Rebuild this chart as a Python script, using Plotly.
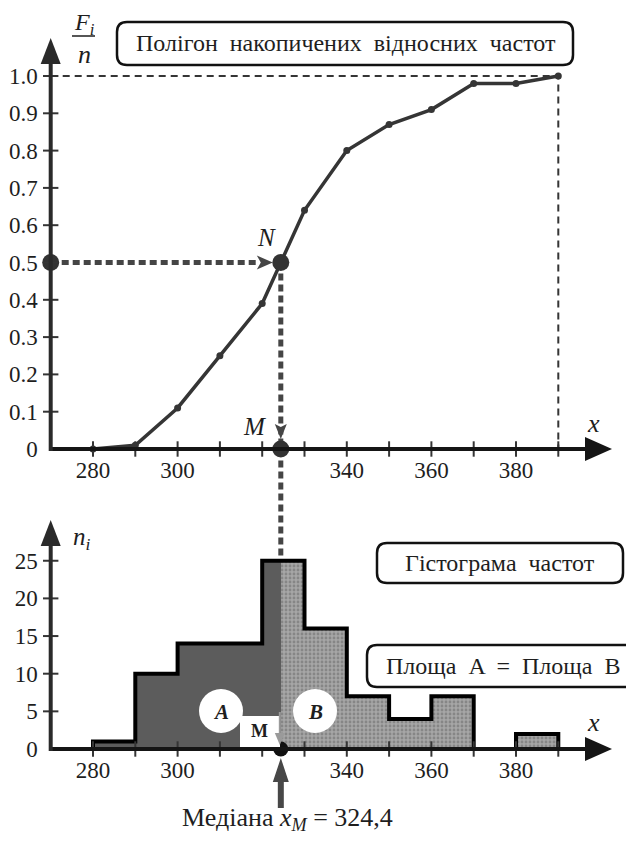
import plotly.graph_objects as go

# The page adds an 8 px body margin; the figure is sized to fit the 634x841 window.
OFF = 8
W, H = 634 - OFF, 841 - OFF

# ---------------- data ----------------
x_points = [280, 290, 300, 310, 320, 330, 340, 350, 360, 370, 380, 390]
cum_rel_freq = [0.0, 0.01, 0.11, 0.25, 0.39, 0.64, 0.80, 0.87, 0.91, 0.98, 0.98, 1.00]
bin_edges = [280, 290, 300, 310, 320, 330, 340, 350, 360, 370, 380, 390]
frequencies = [1, 10, 14, 14, 25, 16, 7, 4, 7, 0, 2]
median_x = 324.4
median_level = 0.5
x_tick_vals = [280, 300, 340, 360, 380]
x_tick_text = ["280", "300", "340", "360", "380"]
x_minor_ticks = [280, 290, 300, 310, 320, 330, 340, 350, 360, 370, 380, 390]
top_y_ticks = [0, 0.1, 0.2, 0.3, 0.4, 0.5, 0.6, 0.7, 0.8, 0.9, 1.0]
top_y_text = ["0", "0.1", "0.2", "0.3", "0.4", "0.5", "0.6", "0.7", "0.8", "0.9", "1.0"]
bot_y_ticks = [0, 5, 10, 15, 20, 25]
bot_y_text = ["0", "5", "10", "15", "20", "25"]

# ---------------- layout geometry (window pixels) ----------------
X0_PX, X_SCALE, X_ORIGIN = 50.7, 4.23, 270
TOP_Y0_PX, TOP_Y_SCALE = 449.0, 373.0
BOT_Y0_PX, BOT_Y_SCALE = 749.0, 7.53
FONT = "Liberation Serif"
INK = "#1e1e1e"
LINE = "#353535"


def px_x(v):
    return X0_PX + (v - X_ORIGIN) * X_SCALE


def x_of_px(p):
    return X_ORIGIN + (p - X0_PX) / X_SCALE


def py_top(v):
    return TOP_Y0_PX - v * TOP_Y_SCALE


def top_of_py(p):
    return (TOP_Y0_PX - p) / TOP_Y_SCALE


def py_bot(v):
    return BOT_Y0_PX - v * BOT_Y_SCALE


def P(px, py):
    return (px - OFF) / W, 1 - (py - OFF) / H


def arrowhead(tipx, tipy, dx, dy, length, hw, notch=0.0):
    bx, by = tipx - dx * length, tipy - dy * length
    nx, ny = -dy, dx
    lx, ly = bx + nx * hw, by + ny * hw
    rx, ry = bx - nx * hw, by - ny * hw
    cx, cy = tipx - dx * (length - notch), tipy - dy * (length - notch)
    pts = [(tipx, tipy), (lx, ly), (cx, cy), (rx, ry)]
    s = ""
    for i, (a, b) in enumerate(pts):
        u, v = P(a, b)
        s += ("M" if i == 0 else "L") + f"{u:.5f},{v:.5f} "
    return s + "Z"


def roundrect(x0, y0, x1, y1, r):
    def p(a, b):
        u, v = P(a, b)
        return f"{u:.5f},{v:.5f}"
    return (f"M{p(x0 + r, y0)} L{p(x1 - r, y0)} Q{p(x1, y0)} {p(x1, y0 + r)} "
            f"L{p(x1, y1 - r)} Q{p(x1, y1)} {p(x1 - r, y1)} L{p(x0 + r, y1)} "
            f"Q{p(x0, y1)} {p(x0, y1 - r)} L{p(x0, y0 + r)} Q{p(x0, y0)} {p(x0 + r, y0)} Z")


fig = go.Figure()

# ---------------- top: cumulative polygon ----------------
fig.add_trace(go.Scatter(x=[X_ORIGIN, x_points[-1], x_points[-1]],
                         y=[cum_rel_freq[-1], cum_rel_freq[-1], 0],
                         mode="lines", line=dict(color=LINE, width=2, dash="7px,5px"),
                         xaxis="x", yaxis="y", hoverinfo="skip"))
fig.add_trace(go.Scatter(x=[X_ORIGIN, x_of_px(px_x(median_x) - 22)],
                         y=[median_level, median_level],
                         mode="lines", line=dict(color="#454545", width=5, dash="7px,4px"),
                         xaxis="x", yaxis="y", hoverinfo="skip"))
fig.add_trace(go.Scatter(x=[median_x, median_x],
                         y=[median_level, top_of_py(py_bot(max(frequencies)))],
                         mode="lines", line=dict(color="#454545", width=5, dash="7px,4px"),
                         xaxis="x", yaxis="y", hoverinfo="skip"))
fig.add_trace(go.Scatter(x=x_points, y=cum_rel_freq, mode="lines+markers",
                         line=dict(color=LINE, width=3.5),
                         marker=dict(color=LINE, size=7),
                         xaxis="x", yaxis="y", hoverinfo="skip"))
fig.add_trace(go.Scatter(x=[X_ORIGIN, median_x, median_x], y=[median_level, median_level, 0],
                         mode="markers", marker=dict(color="#333333", size=17),
                         xaxis="x", yaxis="y", hoverinfo="skip", cliponaxis=False))
fig.add_trace(go.Scatter(x=x_minor_ticks, y=[0] * len(x_minor_ticks), mode="markers",
                         marker=dict(symbol="line-ns", size=11, line=dict(color=LINE, width=2)),
                         xaxis="x", yaxis="y", hoverinfo="skip"))
fig.add_trace(go.Scatter(x=[X_ORIGIN] * (len(top_y_ticks) - 1), y=top_y_ticks[1:], mode="markers",
                         marker=dict(symbol="line-ew", size=11, line=dict(color=LINE, width=2)),
                         xaxis="x", yaxis="y", hoverinfo="skip"))

# ---------------- bottom: histogram ----------------
left_c, left_w, left_h, right_c, right_w, right_h = [], [], [], [], [], []
for i, f in enumerate(frequencies):
    a, b = bin_edges[i], bin_edges[i + 1]
    if f == 0:
        continue
    if a < median_x:
        e = min(b, median_x)
        left_c.append((a + e) / 2); left_w.append(e - a); left_h.append(f)
    if b > median_x:
        s = max(a, median_x)
        right_c.append((s + b) / 2); right_w.append(b - s); right_h.append(f)

fig.add_trace(go.Bar(x=left_c, y=left_h, width=left_w, marker=dict(color="#5c5c5c", line=dict(width=0)),
                     xaxis="x2", yaxis="y2", hoverinfo="skip"))
fig.add_trace(go.Bar(x=right_c, y=right_h, width=right_w,
                     marker=dict(color="#9c9c9c", line=dict(width=0),
                                 pattern=dict(shape=".", fgcolor="#666666", bgcolor="#a6a6a6",
                                              size=4, solidity=0.4)),
                     xaxis="x2", yaxis="y2", hoverinfo="skip"))

ox, oy = [bin_edges[0]], [0]
for i, f in enumerate(frequencies):
    ox += [bin_edges[i], bin_edges[i + 1]]
    oy += [f, f]
ox.append(bin_edges[-1]); oy.append(0)
fig.add_trace(go.Scatter(x=ox, y=oy, mode="lines", line=dict(color="#000000", width=4),
                         xaxis="x2", yaxis="y2", hoverinfo="skip"))
fig.add_trace(go.Scatter(x=x_minor_ticks, y=[0] * len(x_minor_ticks), mode="markers",
                         marker=dict(symbol="line-ns", size=11, line=dict(color=LINE, width=2)),
                         xaxis="x2", yaxis="y2", hoverinfo="skip"))
fig.add_trace(go.Scatter(x=[X_ORIGIN] * (len(bot_y_ticks) - 1), y=bot_y_ticks[1:], mode="markers",
                         marker=dict(symbol="line-ew", size=11, line=dict(color=LINE, width=2)),
                         xaxis="x2", yaxis="y2", hoverinfo="skip"))

# ---------------- decorations (shapes) ----------------
shapes = []
mx = px_x(median_x)


def circ(cx, cy, r):
    x0, y1 = P(cx - r, cy - r)
    x1, y0 = P(cx + r, cy + r)
    return dict(type="circle", xref="paper", yref="paper", x0=x0, x1=x1, y0=y0, y1=y1,
                fillcolor="white", line=dict(width=0), layer="above")


shapes.append(circ(221, 711, 22))
shapes.append(circ(315, 711, 22))
rx0, ry1 = P(240, 716)
rx1, ry0 = P(280, 747)
shapes.append(dict(type="rect", xref="paper", yref="paper", x0=rx0, x1=rx1, y0=ry0, y1=ry1,
                   fillcolor="white", line=dict(width=0)))
a0 = P(mx - 1, 712); a1 = P(mx - 1, 736)
shapes.append(dict(type="line", xref="paper", yref="paper", x0=a0[0], y0=a0[1], x1=a1[0], y1=a1[1],
                   line=dict(color="#9a9a9a", width=2)))
shapes.append(dict(type="path", path=arrowhead(mx - 1, 745, 0, 1, 12, 5), xref="paper", yref="paper",
                   fillcolor="#9a9a9a", line=dict(width=0)))


def hline(x0, x1, y, w=4, color="#151515"):
    a, b = P(x0, y); c, d = P(x1, y)
    return dict(type="line", xref="paper", yref="paper", x0=a, y0=b, x1=c, y1=d,
                line=dict(color=color, width=w))


def vline(x, y0, y1, w=4, color="#151515"):
    a, b = P(x, y0); c, d = P(x, y1)
    return dict(type="line", xref="paper", yref="paper", x0=a, y0=b, x1=c, y1=d,
                line=dict(color=color, width=w))


AXC = "#151515"
shapes.append(hline(X0_PX, 590, TOP_Y0_PX))
shapes.append(dict(type="path", path=arrowhead(612, TOP_Y0_PX, 1, 0, 27, 12), xref="paper", yref="paper",
                   fillcolor=AXC, line=dict(width=0)))
shapes.append(vline(X0_PX, TOP_Y0_PX + 2, 60, color="#2a2a2a"))
shapes.append(dict(type="path", path=arrowhead(X0_PX, 38, 0, -1, 26, 10), xref="paper", yref="paper",
                   fillcolor="#2a2a2a", line=dict(width=0)))
shapes.append(hline(X0_PX, 590, BOT_Y0_PX))
shapes.append(dict(type="path", path=arrowhead(612, BOT_Y0_PX, 1, 0, 27, 12), xref="paper", yref="paper",
                   fillcolor=AXC, line=dict(width=0)))
shapes.append(vline(X0_PX, BOT_Y0_PX + 2, 542, color="#2a2a2a"))
shapes.append(dict(type="path", path=arrowhead(X0_PX, 520, 0, -1, 26, 10), xref="paper", yref="paper",
                   fillcolor="#2a2a2a", line=dict(width=0)))
shapes.append(dict(type="path", path=arrowhead(mx - 8, py_top(median_level), 1, 0, 16, 7, 4),
                   xref="paper", yref="paper", fillcolor="#454545", line=dict(width=0)))
shapes.append(dict(type="path", path=arrowhead(mx, TOP_Y0_PX - 10, 0, 1, 15, 6, 3),
                   xref="paper", yref="paper", fillcolor="#454545", line=dict(width=0)))
shapes.append(vline(mx, 808, 778, w=6, color="#474747"))
shapes.append(dict(type="path", path=arrowhead(mx, 758, 0, -1, 24, 8), xref="paper", yref="paper",
                   fillcolor="#474747", line=dict(width=0)))
shapes.append(hline(72, 95, 36, w=1.5, color=INK))
for (x0, y0, x1, y1) in [(117, 22, 573, 65), (377, 543, 623, 583), (367, 645, 640, 687)]:
    shapes.append(dict(type="path", path=roundrect(x0, y0, x1, y1, 10), xref="paper", yref="paper",
                       line=dict(color="#111111", width=2.5), fillcolor="rgba(255,255,255,0)"))

fig.add_trace(go.Scatter(x=[median_x], y=[0], mode="markers", marker=dict(color="#111111", size=15),
                         xaxis="x2", yaxis="y2", hoverinfo="skip", cliponaxis=False))

# ---------------- annotations ----------------
ann = []


def txt(text, px, py, size=21, xanchor="center", color=INK):
    u, v = P(px, py)
    ann.append(dict(text=text, x=u, y=v, xref="paper", yref="paper", showarrow=False,
                    xanchor=xanchor, yanchor="middle", font=dict(family=FONT, size=size, color=color)))


txt("Полігон  накопичених  відносних  частот", 346, 43, size=24)
txt("Гістограма  частот", 500, 563, size=24)
txt("Площа  A  =  Площа  B", 503, 666, size=24)
txt("<i>F</i><sub><i>i</i></sub>", 84, 24, size=24)
txt("<i>n</i>", 84, 55, size=26)
txt("<i>n</i><sub><i>i</i></sub>", 82, 538, size=25)
txt("<i>x</i>", 593, 423, size=26)
txt("<i>x</i>", 593, 722, size=26)
txt("<i>N</i>", 266, 237, size=25)
txt("<i>M</i>", 254, 426, size=25)
txt("<b><i>A</i></b>", 221, 712, size=21)
txt("<b><i>B</i></b>", 315, 712, size=21)
txt("<b>M</b>", 259, 731, size=18)
txt("Медіана <i>x</i><sub><i>M</i></sub> = " + f"{median_x}".replace(".", ","), 287, 819, size=26)

axis_common = dict(showgrid=False, zeroline=False, showline=False, ticks="", fixedrange=True,
                   tickfont=dict(family=FONT, size=23, color=INK), automargin=False)
xr = [x_of_px(OFF), x_of_px(OFF + W)]
fig.update_layout(
    width=W, height=H, margin=dict(l=0, r=0, t=0, b=0),
    paper_bgcolor="white", plot_bgcolor="rgba(0,0,0,0)",
    showlegend=False, barmode="overlay", bargap=0,
    font=dict(family=FONT),
    xaxis=dict(domain=[0, 1], range=xr, anchor="free", position=1 - (TOP_Y0_PX - OFF) / H,
               tickvals=x_tick_vals, ticktext=x_tick_text, ticklabelstandoff=5, **axis_common),
    yaxis=dict(domain=[0, 1], range=[top_of_py(OFF + H), top_of_py(OFF)], anchor="free",
               position=(X0_PX - OFF) / W,
               tickvals=top_y_ticks, ticktext=top_y_text, ticklabelstandoff=13, **axis_common),
    xaxis2=dict(domain=[0, 1], range=xr, anchor="free", position=1 - (BOT_Y0_PX - OFF) / H,
                tickvals=x_tick_vals, ticktext=x_tick_text, ticklabelstandoff=5, **axis_common),
    yaxis2=dict(domain=[0, 1], range=[(BOT_Y0_PX - OFF - H) / BOT_Y_SCALE, (BOT_Y0_PX - OFF) / BOT_Y_SCALE],
                anchor="free", position=(X0_PX - OFF) / W,
                tickvals=bot_y_ticks, ticktext=bot_y_text, ticklabelstandoff=13, **axis_common),
    shapes=shapes, annotations=ann,
)

fig.write_html("out.html")
